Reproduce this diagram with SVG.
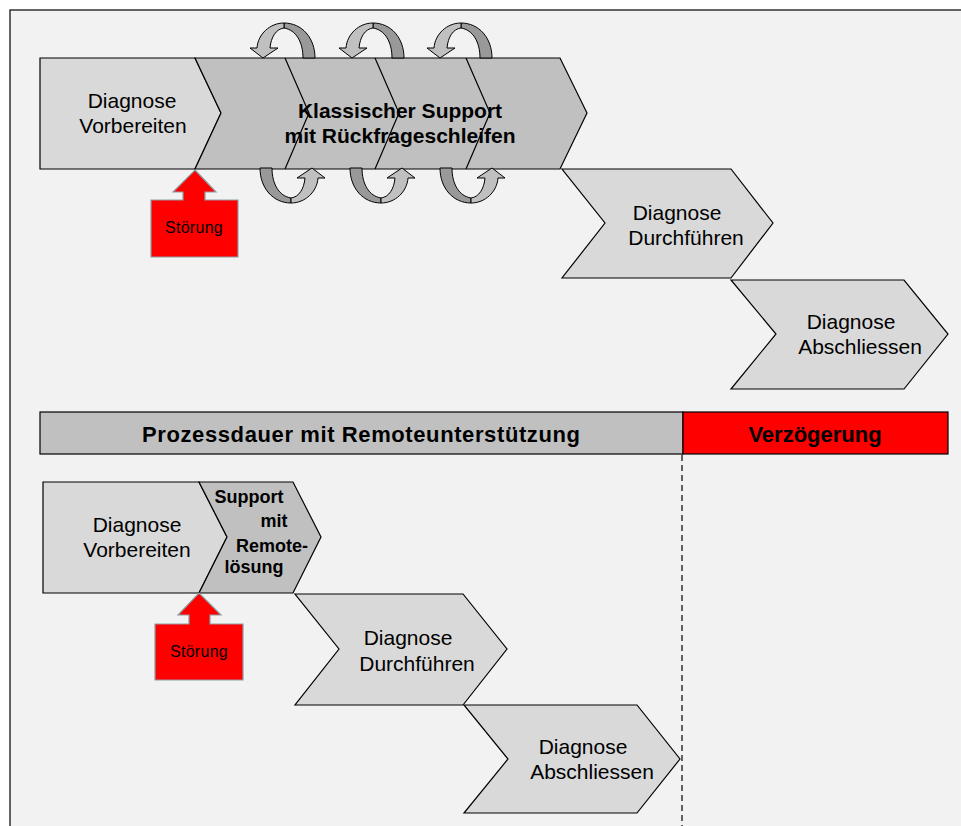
<svg xmlns="http://www.w3.org/2000/svg" xmlns:xlink="http://www.w3.org/1999/xlink" width="961" height="826" viewBox="0 0 961 826">
<style>
.lt{fill:#d9d9d9;stroke:#000;stroke-width:1.2}
.dk{fill:#c0c0c0;stroke:#000;stroke-width:1.2}
.ln{fill:none;stroke:#000;stroke-width:1.2}
.red{fill:#ff0000;stroke:#8c9ea3;stroke-width:1.2}
.t{font-family:"Liberation Sans",Arial,sans-serif;font-size:21px;fill:#000;text-anchor:middle}
.b{font-family:"Liberation Sans",Arial,sans-serif;font-weight:bold;fill:#000;text-anchor:middle}
.s{font-family:"Liberation Sans",Arial,sans-serif;font-size:16px;fill:#000;text-anchor:middle;letter-spacing:0.3px}
.back{fill:#999999;stroke:#000;stroke-width:1}
.front{fill:#c0c0c0;stroke:#000;stroke-width:1}
</style>
<defs>
<g id="loop">
<path class="back" d="M52,0 C52,-20 39,-35 21,-35 L21,-30 C33,-28 40,-16 40,0 Z"/>
<path class="front" d="M21,-35 C7,-35 -5,-24 -6,-10 L-13,-10 L0,0 L15,-10 L7,-10 C8,-21 13,-29 21,-30 Z"/>
</g>
</defs>
<rect x="0" y="0" width="961" height="826" fill="#ffffff"/>
<rect x="10" y="10" width="960" height="830" fill="#f2f2f2" stroke="#333333" stroke-width="1.5"/>

<g id="top-vorbereiten">
<polygon class="lt" points="40,58 195,58 221,113 195,169 40,169"/>
<text class="t" x="132" y="108">Diagnose</text>
<text class="t" x="133" y="133">Vorbereiten</text>
</g>
<g id="top-klassisch">
<polygon class="dk" points="195,58 560,58 587,113 560,169 195,169 221,113"/>
<polyline class="ln" points="285,58 309,113 285,169"/>
<polyline class="ln" points="375,58 399,113 375,169"/>
<polyline class="ln" points="466,58 490,113 466,169"/>
<text class="b" font-size="21" x="400" y="118">Klassischer Support</text>
<text class="b" font-size="21" x="400" y="143">mit Rückfrageschleifen</text>
</g>
<g id="loops">
<use xlink:href="#loop" transform="translate(263,58)"/>
<use xlink:href="#loop" transform="translate(352,58)"/>
<use xlink:href="#loop" transform="translate(440,58)"/>
<use xlink:href="#loop" transform="translate(312,168) rotate(180)"/>
<use xlink:href="#loop" transform="translate(402,168) rotate(180)"/>
<use xlink:href="#loop" transform="translate(492,168) rotate(180)"/>
</g>
<g id="top-stoerung">
<polygon class="red" points="195,170 216,192 205,192 205,200 238,200 238,257 151,257 151,200 183,200 183,192 173,192"/>
<text class="s" x="194" y="233">Störung</text>
</g>
<g id="top-durchfuehren">
<polygon class="lt" points="562,169 731,169 773,223 731,278 562,278 605,223"/>
<text class="t" x="677" y="220">Diagnose</text>
<text class="t" x="686" y="245">Durchführen</text>
</g>
<g id="top-abschliessen">
<polygon class="lt" points="731,280 904,280 948,334 904,389 731,389 776,334"/>
<text class="t" x="851" y="329">Diagnose</text>
<text class="t" x="860" y="354">Abschliessen</text>
</g>

<g id="bar-prozess">
<rect x="40" y="412" width="643" height="42" fill="#c0c0c0" stroke="#000" stroke-width="1.2"/>
<text class="b" font-size="22" x="361" y="442" textLength="438" lengthAdjust="spacing">Prozessdauer mit Remoteunterstützung</text>
</g>
<g id="bar-verzoegerung">
<rect x="683" y="412" width="265" height="42" fill="#ff0000" stroke="#000" stroke-width="1.2"/>
<text class="b" font-size="22" x="815" y="442">Verzögerung</text>
</g>
<g id="connectors">
<line x1="682" y1="455" x2="682" y2="826" stroke="#000" stroke-width="1.2" stroke-dasharray="6,4"/>
</g>

<g id="bot-vorbereiten">
<polygon class="lt" points="43,482 199,482 227,537 199,593 43,593"/>
<text class="t" x="137" y="532">Diagnose</text>
<text class="t" x="137" y="557">Vorbereiten</text>
</g>
<g id="bot-support">
<polygon class="dk" points="199,482 293,482 321,537 293,593 199,593 227,537"/>
<text class="b" font-size="18" x="249" y="503">Support</text>
<text class="b" font-size="18" x="274" y="527">mit</text>
<text class="b" font-size="18" x="272" y="552">Remote-</text>
<text class="b" font-size="18" x="254" y="573">lösung</text>
</g>
<g id="bot-stoerung">
<polygon class="red" points="199,593 221,615 210,615 210,624 243,624 243,680 155,680 155,624 189,624 189,615 178,615"/>
<text class="s" x="199" y="657">Störung</text>
</g>
<g id="bot-durchfuehren">
<polygon class="lt" points="295,594 463,594 507,649 463,705 295,705 339,649"/>
<text class="t" x="408" y="645">Diagnose</text>
<text class="t" x="417" y="671">Durchführen</text>
</g>
<g id="bot-abschliessen">
<polygon class="lt" points="464,705 637,705 680,759 637,813 464,813 508,759"/>
<text class="t" x="583" y="754">Diagnose</text>
<text class="t" x="592" y="779">Abschliessen</text>
</g>
</svg>
